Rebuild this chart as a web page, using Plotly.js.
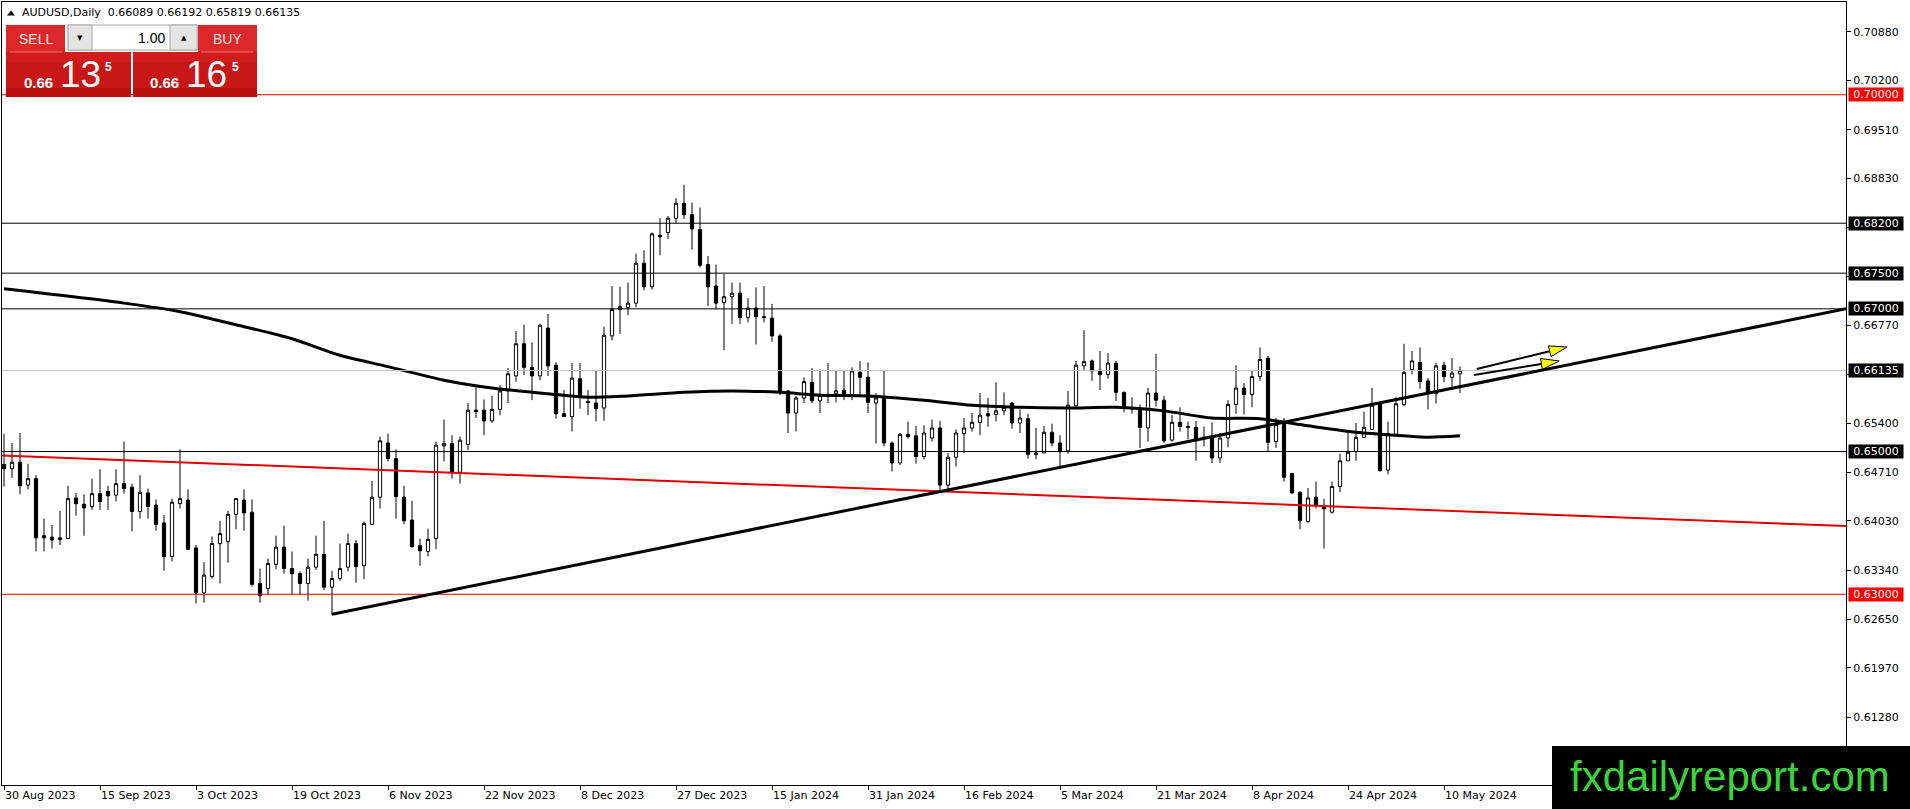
<!DOCTYPE html>
<html><head><meta charset="utf-8">
<script src="https://cdn.plot.ly/plotly-3.0.1.min.js"></script>
<style>html,body{margin:0;padding:0;background:#fff;overflow:hidden}#chart{width:1910px;height:809px}</style>
</head><body><div id="chart"></div><script>
// ---------------- DATA ----------------
const symbolText = 'AUDUSD,Daily';
const lastQuote = [0.66089, 0.66192, 0.65819, 0.66135];   // O H L C of last bar
const bidPrice = 0.66135;
const sellPrice = ['0.66', '13', '5'];
const buyPrice = ['0.66', '16', '5'];
const lotSize = '1.00';

const openP = [0.6482,0.6476,0.6485,0.6453,0.6462,0.6382,0.6380,0.6379,0.6378,0.6435,
0.6426,0.6423,0.6441,0.6444,0.6439,0.6455,0.6450,0.6416,0.6442,0.6425,
0.6400,0.6353,0.6427,0.6432,0.6365,0.6302,0.6325,0.6371,0.6374,0.6412,
0.6432,0.6415,0.6315,0.6308,0.6342,0.6366,0.6336,0.6329,0.6315,0.6338,
0.6356,0.6310,0.6322,0.6338,0.6371,0.6340,0.6398,0.6436,0.6512,0.6490,
0.6436,0.6404,0.6368,0.6360,0.6378,0.6508,0.6511,0.6471,0.6510,0.6558,
0.6558,0.6543,0.6559,0.6585,0.6606,0.6651,0.6618,0.6606,0.6673,0.6621,
0.6553,0.6549,0.6602,0.6570,0.6568,0.6561,0.6662,0.6699,0.6702,0.6708,
0.6764,0.6731,0.6803,0.6807,0.6827,0.6848,0.6832,0.6811,0.6762,0.6732,
0.6709,0.6717,0.6722,0.6688,0.6701,0.6689,0.6687,0.6662,0.6585,0.6554,
0.6575,0.6597,0.6571,0.6579,0.6581,0.6586,0.6577,0.6611,0.6604,0.6568,
0.6577,0.6512,0.6484,0.6524,0.6522,0.6493,0.6519,0.6533,0.6453,0.6492,
0.6525,0.6533,0.6541,0.6553,0.6552,0.6557,0.6568,0.6540,0.6546,0.6496,
0.6498,0.6527,0.6512,0.6501,0.6564,0.6620,0.6627,0.6614,0.6608,0.6624,
0.6583,0.6561,0.6559,0.6533,0.6582,0.6572,0.6516,0.6541,0.6535,0.6534,
0.6518,0.6520,0.6491,0.6519,0.6566,0.6589,0.6580,0.6605,0.6631,0.6514,
0.6541,0.6469,0.6443,0.6402,0.6436,0.6424,0.6415,0.6451,0.6487,0.6500,
0.6520,0.6531,0.6568,0.6474,0.6524,0.6566,0.6615,0.6625,0.6599,0.6581,
0.6621,0.6604,0.66089];
const highP = [0.6525,0.6512,0.6526,0.6483,0.6467,0.6406,0.6397,0.6417,0.6452,0.6442,
0.6440,0.6462,0.6475,0.6452,0.6475,0.6514,0.6455,0.6467,0.6448,0.6433,
0.6411,0.6434,0.6503,0.6447,0.6369,0.6345,0.6381,0.6403,0.6417,0.6435,
0.6447,0.6433,0.6336,0.6350,0.6382,0.6396,0.6360,0.6332,0.6350,0.6382,
0.6403,0.6333,0.6371,0.6385,0.6376,0.6402,0.6459,0.6521,0.6525,0.6503,
0.6452,0.6431,0.6378,0.6392,0.6514,0.6545,0.6523,0.6521,0.6568,0.6590,
0.6573,0.6578,0.6593,0.6617,0.6669,0.6678,0.6653,0.6679,0.6693,0.6625,
0.6586,0.6624,0.6624,0.6586,0.6613,0.6675,0.6732,0.6731,0.6737,0.6777,
0.6782,0.6807,0.6827,0.6830,0.6855,0.6874,0.6849,0.6842,0.6774,0.6762,
0.6749,0.6737,0.6737,0.6715,0.6730,0.6732,0.6707,0.6665,0.6586,0.6578,
0.6604,0.6617,0.6615,0.6624,0.6613,0.6613,0.6618,0.6627,0.6625,0.6582,
0.6613,0.6514,0.6526,0.6542,0.6536,0.6537,0.6545,0.6543,0.6498,0.6531,
0.6547,0.6554,0.6582,0.6575,0.6597,0.6583,0.6569,0.6559,0.6553,0.6533,
0.6536,0.6539,0.6523,0.6585,0.6627,0.6670,0.6629,0.6641,0.6638,0.6627,
0.6584,0.6576,0.6566,0.6589,0.6637,0.6578,0.6551,0.6562,0.6542,0.6543,
0.6535,0.6541,0.6526,0.6572,0.6621,0.6596,0.6613,0.6646,0.6634,0.6547,
0.6547,0.6470,0.6444,0.6449,0.6458,0.6434,0.6458,0.6497,0.6527,0.6540,
0.6556,0.6589,0.6570,0.6542,0.6576,0.6651,0.6641,0.6646,0.6603,0.6624,
0.6626,0.6631,0.66192];
const lowP = [0.6451,0.6463,0.6440,0.6447,0.6360,0.6360,0.6364,0.6369,0.6378,0.6410,
0.6382,0.6418,0.6418,0.6418,0.6430,0.6441,0.6388,0.6406,0.6406,0.6389,
0.6333,0.6346,0.6420,0.6363,0.6287,0.6288,0.6322,0.6315,0.6344,0.6391,
0.6389,0.6311,0.6288,0.6300,0.6335,0.6329,0.6299,0.6300,0.6291,0.6334,
0.6306,0.6271,0.6319,0.6332,0.6316,0.6321,0.6397,0.6420,0.6486,0.6406,
0.6398,0.6365,0.6340,0.6353,0.6363,0.6486,0.6462,0.6455,0.6502,0.6547,
0.6523,0.6540,0.6551,0.6568,0.6598,0.6607,0.6572,0.6600,0.6606,0.6546,
0.6549,0.6528,0.6560,0.6551,0.6542,0.6543,0.6656,0.6665,0.6691,0.6702,
0.6726,0.6727,0.6775,0.6798,0.6820,0.6826,0.6783,0.6758,0.6704,0.6699,
0.6642,0.6679,0.6679,0.6681,0.6650,0.6681,0.6654,0.6579,0.6526,0.6528,
0.6568,0.6568,0.6554,0.6568,0.6569,0.6572,0.6572,0.6577,0.6554,0.6511,
0.6507,0.6472,0.6481,0.6518,0.6483,0.6489,0.6514,0.6446,0.6446,0.6479,
0.6498,0.6528,0.6523,0.6535,0.6542,0.6551,0.6532,0.6526,0.6490,0.6489,
0.6498,0.6507,0.6479,0.6497,0.6563,0.6614,0.6599,0.6586,0.6602,0.6571,
0.6555,0.6553,0.6505,0.6514,0.6563,0.6512,0.6514,0.6528,0.6517,0.6487,
0.6507,0.6484,0.6484,0.6506,0.6553,0.6552,0.6562,0.6599,0.6500,0.6505,
0.6458,0.6441,0.6391,0.6400,0.6420,0.6364,0.6413,0.6443,0.6487,0.6487,
0.6519,0.6530,0.6473,0.6468,0.6521,0.6564,0.6608,0.6588,0.6559,0.6567,
0.6597,0.6591,0.65819];
const closeP = [0.6476,0.6485,0.6452,0.6462,0.6379,0.6379,0.6376,0.6377,0.6434,0.6427,
0.6421,0.6441,0.6430,0.6438,0.6455,0.6448,0.6416,0.6443,0.6423,0.6398,
0.6353,0.6429,0.6434,0.6363,0.6302,0.6327,0.6371,0.6385,0.6412,0.6434,
0.6414,0.6314,0.6298,0.6343,0.6366,0.6336,0.6329,0.6315,0.6338,0.6356,
0.6310,0.6322,0.6336,0.6371,0.6339,0.6399,0.6436,0.6515,0.6490,0.6437,
0.6403,0.6367,0.6361,0.6377,0.6509,0.6511,0.6471,0.6516,0.6558,0.6556,
0.6543,0.6559,0.6585,0.6609,0.6651,0.6618,0.6606,0.6677,0.6620,0.6553,
0.6549,0.6603,0.6578,0.6569,0.6560,0.6663,0.6699,0.6703,0.6708,0.6764,
0.6731,0.6805,0.6801,0.6827,0.6848,0.6832,0.6812,0.6761,0.6731,0.6708,
0.6717,0.6722,0.6688,0.6701,0.6689,0.6688,0.6662,0.6584,0.6554,0.6575,
0.6598,0.6571,0.6579,0.6580,0.6585,0.6577,0.6613,0.6604,0.6569,0.6575,
0.6512,0.6484,0.6524,0.6521,0.6493,0.6526,0.6533,0.6453,0.6492,0.6526,
0.6533,0.6541,0.6551,0.6550,0.6557,0.6562,0.6540,0.6547,0.6496,0.6498,
0.6527,0.6512,0.6501,0.6565,0.6621,0.6626,0.6613,0.6608,0.6624,0.6583,
0.6561,0.6560,0.6534,0.6582,0.6572,0.6515,0.6541,0.6535,0.6534,0.6517,
0.6520,0.6491,0.6519,0.6566,0.6589,0.6580,0.6605,0.6629,0.6513,0.6538,
0.6464,0.6442,0.6403,0.6435,0.6425,0.6420,0.6451,0.6487,0.6499,0.6520,
0.6534,0.6565,0.6473,0.6525,0.6567,0.6611,0.6627,0.6598,0.6583,0.6620,
0.6605,0.6610,0.66135];

// 200-period moving average, read at sample bars
const maBar = [0,15,22,30,36,42,48,55,61,68,73,78,85,91,97,102,108,115,121,127,133,139,145,151,157,163,169,175,178,182];
const maVal = [0.6728,0.6708,0.6696,0.6675,0.6658,0.6635,0.6619,0.6600,0.6589,0.6581,0.6576,0.6578,0.6583,0.6585,0.6583,
0.6579,0.6578,0.6572,0.6565,0.6562,0.6561,0.6562,0.6557,0.6547,0.6546,0.6536,0.6527,0.6522,0.6520,0.6522];

const tickDates = ['2023-08-30','2023-09-15','2023-10-03','2023-10-19','2023-11-06','2023-11-22','2023-12-08','2023-12-27',
'2024-01-15','2024-01-31','2024-02-16','2024-03-05','2024-03-21','2024-04-08','2024-04-24','2024-05-10'];
const tickLabels = ['30 Aug 2023','15 Sep 2023','3 Oct 2023','19 Oct 2023','6 Nov 2023','22 Nov 2023','8 Dec 2023','27 Dec 2023',
'15 Jan 2024','31 Jan 2024','16 Feb 2024','5 Mar 2024','21 Mar 2024','8 Apr 2024','24 Apr 2024','10 May 2024'];
const priceTicks = [0.70880,0.70200,0.69510,0.68830,0.68140,0.67460,0.66770,0.66080,0.65400,0.64710,0.64030,0.63340,0.62650,0.61970,0.61280];
const hiddenTicks = [0.68140, 0.67460, 0.66080];   // covered by the level boxes in the reference

const blackLevels = [0.68200, 0.67500, 0.67000, 0.65000];
const redLevels = [0.70000, 0.63000];

// drawn objects (bar index, price)
const redTrendBar = [-0.25, 230.25];
const redTrendPrice = [0.64945, 0.63956];
const upTrendBar = [41, 230.25];
const upTrendPrice = [0.6272, 0.6700];
const arrowTailBar = [184.1, 183.75];
const arrowTailPrice = [0.66157, 0.66072];
const arrowTipBar = [195.4, 194.4];
const arrowTipPrice = [0.66465, 0.66269];

const watermark = 'fxdailyreport.com';

// trading calendar (weekdays, broker skips Christmas and New Year)
function tradingDays(start, end, skip) {
  const out = []; const d = new Date(start + 'T00:00:00Z'); const e = new Date(end + 'T00:00:00Z');
  while (d <= e) {
    const wd = d.getUTCDay(); const s = d.toISOString().slice(0, 10);
    if (wd !== 0 && wd !== 6 && skip.indexOf(s) < 0) out.push(s);
    d.setUTCDate(d.getUTCDate() + 1);
  }
  return out;
}
const dates = tradingDays('2023-08-30', '2024-05-14', ['2023-12-25', '2024-01-01']);
const barIndex = dates.map((d, i) => i);

// ---------------- LAYOUT ----------------
const W = 1910, H = 809, ML = 2, MR = 64, MT = 2, MB = 24;
const plotW = W - ML - MR, plotH = H - MT - MB;
const xRange = [-0.25, 230.25];
const yRange = [0.60327, 0.71300];
const px = x => (x - ML) / plotW;          // pixel -> paper
const py = y => (H - MB - y) / plotH;
const pxPerBar = plotW / (xRange[1] - xRange[0]);
const pxPerPrice = plotH / (yRange[1] - yRange[0]);

const shapes = [];
const annotations = [];

function hline(v, color) {
  shapes.push({type: 'line', xref: 'paper', x0: 0, x1: 1, yref: 'y', y0: v, y1: v,
    line: {color: color, width: 1}, layer: 'above'});
}
hline(bidPrice, '#c0c0c0');
blackLevels.forEach(v => hline(v, '#000000'));
redLevels.forEach(v => hline(v, '#e00000'));

shapes.push({type: 'line', xref: 'x', yref: 'y', x0: redTrendBar[0], x1: redTrendBar[1], y0: redTrendPrice[0], y1: redTrendPrice[1],
  line: {color: '#e00000', width: 2}, layer: 'above'});
shapes.push({type: 'line', xref: 'x', yref: 'y', x0: upTrendBar[0], x1: upTrendBar[1], y0: upTrendPrice[0], y1: upTrendPrice[1],
  line: {color: '#000000', width: 3}, layer: 'above'});

// arrows
for (let i = 0; i < arrowTipBar.length; i++) {
  const dx = (arrowTipBar[i] - arrowTailBar[i]) * pxPerBar;
  const dy = (arrowTipPrice[i] - arrowTailPrice[i]) * pxPerPrice;
  const len = Math.hypot(dx, dy), ux = dx / len, uy = dy / len, nx = -uy, ny = ux;
  const LH = 18, WH = 5.5;
  const toX = p => arrowTipBar[i] + p / pxPerBar;
  const toY = p => arrowTipPrice[i] + p / pxPerPrice;
  const bx = -LH * ux, by = -LH * uy;
  shapes.push({type: 'line', xref: 'x', yref: 'y', x0: arrowTailBar[i], y0: arrowTailPrice[i], x1: toX(bx), y1: toY(by),
    line: {color: '#000', width: 2}, layer: 'above'});
  const path = 'M' + arrowTipBar[i] + ',' + arrowTipPrice[i] +
    ' L' + toX(bx + WH * nx) + ',' + toY(by + WH * ny) +
    ' L' + toX(bx - WH * nx) + ',' + toY(by - WH * ny) + ' Z';
  shapes.push({type: 'path', xref: 'x', yref: 'y', path: path, fillcolor: '#ffff00', line: {color: '#000', width: 1}, layer: 'above'});
}

// pixel-space helpers for overlay widgets
function prect(x0, y0, x1, y1, fill, lc) {
  shapes.push({type: 'rect', xref: 'paper', yref: 'paper', x0: px(x0), x1: px(x1), y0: py(y1), y1: py(y0),
    fillcolor: fill, line: {color: lc || fill, width: lc ? 1 : 0}, layer: 'above'});
}
function ptext(x, y, text, font, xanchor, extra) {
  annotations.push(Object.assign({xref: 'paper', yref: 'paper', x: px(x), y: py(y), text: text, showarrow: false,
    xanchor: xanchor || 'left', yanchor: 'middle', font: font, borderpad: 0}, extra || {}));
}

// header
shapes.push({type: 'path', xref: 'paper', yref: 'paper',
  path: 'M' + px(7) + ',' + py(15.5) + ' L' + px(15) + ',' + py(15.5) + ' L' + px(11) + ',' + py(10.5) + ' Z',
  fillcolor: '#000', line: {width: 0}, layer: 'above'});
ptext(21, 13, symbolText + '\u00a0\u00a0' + lastQuote.map(v => v.toFixed(5)).join(' '),
  {family: 'DejaVu Sans', size: 11, color: '#000'});

// trade panel
prect(6, 25, 65, 52, '#dc2828');
prect(198, 25, 257, 52, '#dc2828');
prect(6, 52, 131, 97, '#c81717');
prect(133, 52, 257, 97, '#c81717');
prect(6, 52, 131, 62, '#d01c1c');
prect(133, 52, 257, 62, '#d01c1c');
prect(6, 88, 131, 97, '#bb1010');
prect(133, 88, 257, 97, '#bb1010');
shapes.push({type: 'line', xref: 'paper', yref: 'paper', x0: px(10), x1: px(62), y0: py(52), y1: py(52), line: {color: '#ee7070', width: 1}, layer: 'above'});
shapes.push({type: 'line', xref: 'paper', yref: 'paper', x0: px(201), x1: px(253), y0: py(52), y1: py(52), line: {color: '#ee7070', width: 1}, layer: 'above'});
prect(68, 25, 197, 50, '#ffffff', '#a8a8a8');
prect(68, 25, 92, 50, '#e4e4e4', '#a8a8a8');
prect(170, 25, 197, 50, '#e4e4e4', '#a8a8a8');
ptext(35.5, 39, 'SELL', {family: 'Liberation Sans', size: 14, color: '#fbe3e3'}, 'center');
ptext(227.5, 39, 'BUY', {family: 'Liberation Sans', size: 14, color: '#fbe3e3'}, 'center');
ptext(80, 38, '\u25BC', {family: 'DejaVu Sans', size: 7, color: '#000'}, 'center');
ptext(183.5, 38, '\u25B2', {family: 'DejaVu Sans', size: 7, color: '#000'}, 'center');
ptext(166, 38, lotSize, {family: 'Liberation Sans', size: 14, color: '#000'}, 'right');
ptext(23, 82, sellPrice[0], {family: 'Liberation Sans', size: 15, color: '#fff', weight: 'bold'});
ptext(59, 74, sellPrice[1], {family: 'Liberation Sans', size: 37, color: '#fff'});
ptext(104, 67, sellPrice[2], {family: 'Liberation Sans', size: 12, color: '#fff', weight: 'bold'});
ptext(149, 82, buyPrice[0], {family: 'Liberation Sans', size: 15, color: '#fff', weight: 'bold'});
ptext(185, 74, buyPrice[1], {family: 'Liberation Sans', size: 37, color: '#fff'});
ptext(231, 67, buyPrice[2], {family: 'Liberation Sans', size: 12, color: '#fff', weight: 'bold'});

// right-axis level labels
function levelLabel(v, bg) {
  annotations.push({xref: 'paper', yref: 'y', x: px(1848), y: v, xanchor: 'left', yanchor: 'middle',
    text: v.toFixed(5), showarrow: false, bgcolor: bg, borderpad: 1, width: 52, height: 11, align: 'center',
    font: {family: 'DejaVu Sans', size: 11, color: '#fff'}});
}
redLevels.forEach(v => levelLabel(v, '#ff0000'));
blackLevels.forEach(v => levelLabel(v, '#000000'));
levelLabel(bidPrice, '#000000');

// watermark
prect(1552, 746, 1915, 815, '#000000');
ptext(1730, 776, watermark, {family: 'Liberation Sans', size: 42, color: '#3ad43a'}, 'center');

const traces = [
  {type: 'candlestick', x: barIndex, open: openP, high: highP, low: lowP, close: closeP,
   increasing: {line: {color: '#000', width: 1}, fillcolor: '#ffffff'},
   decreasing: {line: {color: '#000', width: 1}, fillcolor: '#000000'},
   whiskerwidth: 0, hoverinfo: 'skip'},
  {type: 'scatter', mode: 'lines', x: maBar, y: maVal, line: {color: '#000', width: 3, shape: 'spline', smoothing: 0.8}, hoverinfo: 'skip'}
];

const layout = {
  width: W, height: H, margin: {l: ML, r: MR, t: MT, b: MB, pad: 0},
  paper_bgcolor: '#fff', plot_bgcolor: '#fff', showlegend: false, hovermode: false,
  boxgap: 0.42,
  xaxis: {range: xRange, showgrid: false, zeroline: false, showline: true, linecolor: '#000', linewidth: 1, mirror: true,
    ticks: 'outside', ticklen: 4, tickcolor: '#000', tickwidth: 1,
    tickvals: tickDates.map(d => dates.indexOf(d)), ticktext: tickLabels, ticklabelposition: 'outside right',
    tickfont: {family: 'DejaVu Sans', size: 11, color: '#000'}, rangeslider: {visible: false}, fixedrange: true},
  yaxis: {side: 'right', range: yRange, showgrid: false, zeroline: false, showline: true, linecolor: '#000', linewidth: 1, mirror: true,
    ticks: 'outside', ticklen: 4, tickcolor: '#000', tickwidth: 1,
    tickvals: priceTicks, ticktext: priceTicks.map(v => hiddenTicks.indexOf(v) >= 0 ? '' : v.toFixed(5)),
    tickfont: {family: 'DejaVu Sans', size: 11, color: '#000'}, fixedrange: true},
  shapes: shapes, annotations: annotations
};

Plotly.newPlot('chart', traces, layout, {displayModeBar: false, staticPlot: true});
</script></body></html>
